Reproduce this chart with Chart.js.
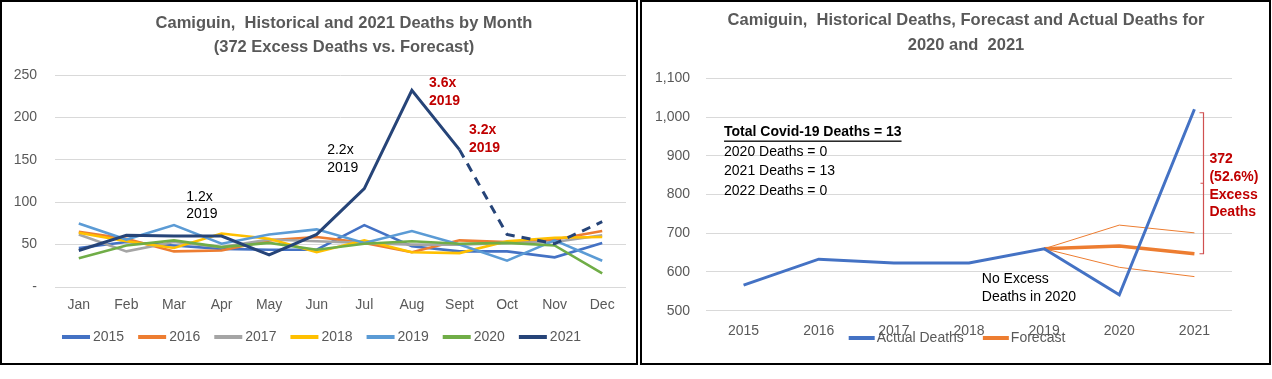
<!DOCTYPE html>
<html><head><meta charset="utf-8">
<script src="https://cdn.jsdelivr.net/npm/chart.js@4/dist/chart.umd.min.js"></script>
<style>
html,body{margin:0;padding:0;background:#fff;width:1272px;height:379px;overflow:hidden;}
.panel{position:absolute;top:0;height:365px;box-sizing:border-box;border:2px solid #000;background:#fff;}
#p1{left:0;width:638px;}
#p2{left:640px;width:631px;}
canvas{display:block;}
</style></head><body>
<div class="panel" id="p1"><canvas id="c1" width="634" height="361"></canvas></div>
<div class="panel" id="p2"><canvas id="c2" width="627" height="361"></canvas></div>
<script>
const FONT = "'Liberation Sans', Arial, sans-serif";

// ---- Left chart data (monthly deaths) ----
const months = ['Jan','Feb','Mar','Apr','May','Jun','Jul','Aug','Sept','Oct','Nov','Dec'];
const deaths2015 = [46,53,49,45,44,44,73,48,42,42,35,52];
const deaths2016 = [65,57,42,43,55,59,52,41,55,53,56,66];
const deaths2017 = [62,42,53,47,56,54,52,50,50,52,53,61];
const deaths2018 = [64,54,46,63,57,41,55,41,40,54,58,59];
const deaths2019 = [75,56,73,51,62,68,52,66,50,31,55,31];
const deaths2020 = [34,49,55,47,52,44,51,54,51,52,49,16];
const deaths2021 = [43,61,60,60,38,62,116,232,162,62,51,77];
const seriesLabels = ['2015','2016','2017','2018','2019','2020','2021'];
const leftTicks = [0,50,100,150,200,250];

// ---- Right chart data (annual deaths) ----
const years = ['2015','2016','2017','2018','2019','2020','2021'];
const actualDeaths = [566,633,623,623,660,541,1020];
const forecastDeaths = [null,null,null,null,660,667,647];
const forecastHigh = [null,null,null,null,660,721,701];
const forecastLow = [null,null,null,null,660,612,588];
const rightTicks = [500,600,700,800,900,1000,1100];

const GREY = '#595959';
const seriesColors = ['#4472C4','#ED7D31','#A5A5A5','#FFC000','#5B9BD5','#70AD47','#264478'];

const overlay = {
  id: 'overlay',
  afterDatasetsDraw(chart, args, opts) {
    const ctx = chart.ctx, xs = chart.scales.x, ys = chart.scales.y;
    ctx.save();
    // titles
    (opts.title || []).forEach(t => {
      ctx.font = `bold ${t.size}px ${FONT}`;
      ctx.fillStyle = GREY; ctx.textAlign = 'center'; ctx.textBaseline = 'middle';
      ctx.fillText(t.text, t.x, t.y);
    });
    // annotation texts in data coordinates
    (opts.notes || []).forEach(n => {
      ctx.font = `${n.bold ? 'bold ' : ''}14px ${FONT}`;
      ctx.fillStyle = n.color || '#000'; ctx.textAlign = 'left'; ctx.textBaseline = 'middle';
      const px = xs.getPixelForValue(n.x), py = ys.getPixelForValue(n.y);
      ctx.fillText(n.text, px, py);
      if (n.underline) {
        const w = ctx.measureText(n.text).width;
        ctx.fillRect(px, py + 8, w, 1.3);
      }
    });
    // bracket
    if (opts.bracket) {
      const b = opts.bracket;
      const px = Math.round(xs.getPixelForValue(b.x)) + 0.5;
      const y1 = ys.getPixelForValue(b.top), y2 = ys.getPixelForValue(b.bottom), ym = ys.getPixelForValue(b.mid);
      ctx.strokeStyle = b.color; ctx.lineWidth = 1.2;
      ctx.beginPath();
      ctx.moveTo(px - 4, y1); ctx.lineTo(px, y1); ctx.lineTo(px, y2); ctx.lineTo(px - 4, y2);
      ctx.moveTo(px, ym); ctx.lineTo(px - 3, ym);
      ctx.stroke();
    }
    // legend
    if (opts.legend) {
      const L = opts.legend;
      ctx.font = `14px ${FONT}`;
      const items = chart.data.datasets.filter(d => !d.hideLegend);
      const widths = items.map(d => L.line + L.gap + ctx.measureText(d.label).width);
      const total = widths.reduce((a, b) => a + b, 0) + L.spacing * (items.length - 1);
      let x = L.cx - total / 2;
      items.forEach((d, i) => {
        ctx.fillStyle = d.borderColor;
        ctx.fillRect(x, L.y - 2, L.line, 4);
        ctx.fillStyle = GREY; ctx.textAlign = 'left'; ctx.textBaseline = 'middle';
        ctx.fillText(d.label, x + L.line + L.gap, L.y);
        x += widths[i] + L.spacing;
      });
    }
    ctx.restore();
  }
};

const monthlySeries = [deaths2015,deaths2016,deaths2017,deaths2018,deaths2019,deaths2020,deaths2021];

new Chart(document.getElementById('c1'), {
  type: 'line',
  data: {
    labels: months,
    datasets: monthlySeries.map((arr, i) => ({
      label: seriesLabels[i],
      data: arr,
      borderColor: seriesColors[i],
      backgroundColor: seriesColors[i],
      borderWidth: i === 6 ? 3 : 2.6,
      pointRadius: 0,
      tension: 0,
      order: 7 - i,
      segment: i === 6 ? { borderDash: c => c.p0DataIndex >= 8 ? [9, 7] : undefined } : undefined
    }))
  },
  options: {
    responsive: false, animation: false,
    layout: { padding: { left: 0, right: 10, top: 73, bottom: 0 } },
    plugins: {
      legend: { display: false }, title: { display: false }, tooltip: { enabled: false },
      overlay: {
        title: [
          { text: 'Camiguin,  Historical and 2021 Deaths by Month', x: 342, y: 21, size: 16.5 },
          { text: '(372 Excess Deaths vs. Forecast)', x: 342, y: 45, size: 16.5 }
        ],
        notes: [
          { x: 2.26, y: 106, text: '1.2x' }, { x: 2.26, y: 86, text: '2019' },
          { x: 5.22, y: 161.5, text: '2.2x' }, { x: 5.22, y: 140, text: '2019' },
          { x: 7.36, y: 240, text: '3.6x', bold: true, color: '#C00000' }, { x: 7.36, y: 219.5, text: '2019', bold: true, color: '#C00000' },
          { x: 8.2, y: 185, text: '3.2x', bold: true, color: '#C00000' }, { x: 8.2, y: 164, text: '2019', bold: true, color: '#C00000' }
        ],
        legend: { cx: 319.5, y: 335, line: 28, gap: 3, spacing: 14 }
      }
    },
    scales: {
      x: {
        offset: true,
        grid: { display: false, drawTicks: false }, border: { display: false },
        ticks: { color: GREY, font: { family: FONT, size: 14 }, padding: 10, maxRotation: 0, autoSkip: false },
        afterFit: s => { s.height = 76; }
      },
      y: {
        min: leftTicks[0], max: leftTicks[leftTicks.length - 1],
        afterBuildTicks: s => { s.ticks = leftTicks.map(v => ({ value: v })); },
        grid: { color: '#D9D9D9', drawTicks: false }, border: { display: false },
        ticks: { color: GREY, font: { family: FONT, size: 14 }, padding: 18, callback: v => v === 0 ? '-' : v },
        afterFit: s => { s.width = 53; }
      }
    }
  },
  plugins: [overlay]
});

new Chart(document.getElementById('c2'), {
  type: 'line',
  data: {
    labels: years,
    datasets: [
      { label: 'Actual Deaths', data: actualDeaths, borderColor: '#4472C4', backgroundColor: '#4472C4', borderWidth: 3, pointRadius: 0, tension: 0, order: 0 },
      { label: 'Forecast', data: forecastDeaths, borderColor: '#ED7D31', backgroundColor: '#ED7D31', borderWidth: 3.5, pointRadius: 0, tension: 0, order: 1 },
      { label: 'Upper', data: forecastHigh, borderColor: '#ED7D31', borderWidth: 1, pointRadius: 0, tension: 0, order: 2, hideLegend: true },
      { label: 'Lower', data: forecastLow, borderColor: '#ED7D31', borderWidth: 1, pointRadius: 0, tension: 0, order: 3, hideLegend: true }
    ]
  },
  options: {
    responsive: false, animation: false,
    layout: { padding: { left: 0, right: 37, top: 76.3, bottom: 0 } },
    plugins: {
      legend: { display: false }, title: { display: false }, tooltip: { enabled: false },
      overlay: {
        title: [
          { text: 'Camiguin,  Historical Deaths, Forecast and Actual Deaths for', x: 324, y: 18, size: 16.5 },
          { text: '2020 and  2021', x: 324, y: 43, size: 16.5 }
        ],
        notes: [
          { x: -0.26, y: 960, text: 'Total Covid-19 Deaths = 13', bold: true, underline: true },
          { x: -0.26, y: 909, text: '2020 Deaths = 0' },
          { x: -0.26, y: 861, text: '2021 Deaths = 13' },
          { x: -0.26, y: 809, text: '2022 Deaths = 0' },
          { x: 3.17, y: 581, text: 'No Excess' },
          { x: 3.17, y: 534, text: 'Deaths in 2020' },
          { x: 6.2, y: 891, text: '372', bold: true, color: '#C00000' },
          { x: 6.2, y: 844.5, text: '(52.6%)', bold: true, color: '#C00000' },
          { x: 6.2, y: 798.7, text: 'Excess', bold: true, color: '#C00000' },
          { x: 6.2, y: 754, text: 'Deaths', bold: true, color: '#C00000' }
        ],
        bracket: { x: 6.11, top: 1011, bottom: 647, mid: 829, color: '#D05050' },
        legend: { cx: 315, y: 336, line: 26, gap: 2, spacing: 19 }
      }
    },
    scales: {
      x: {
        offset: true,
        grid: { display: false, drawTicks: false }, border: { display: false },
        ticks: { color: GREY, font: { family: FONT, size: 14 }, padding: 12, maxRotation: 0, autoSkip: false },
        afterFit: s => { s.height = 52.3; }
      },
      y: {
        min: rightTicks[0], max: rightTicks[rightTicks.length - 1],
        afterBuildTicks: s => { s.ticks = rightTicks.map(v => ({ value: v })); },
        grid: { color: '#D9D9D9', drawTicks: false }, border: { display: false },
        ticks: { color: GREY, font: { family: FONT, size: 14 }, padding: 16, callback: v => v.toLocaleString('en-US') },
        afterFit: s => { s.width = 64; }
      }
    }
  },
  plugins: [overlay]
});
</script>
</body></html>
